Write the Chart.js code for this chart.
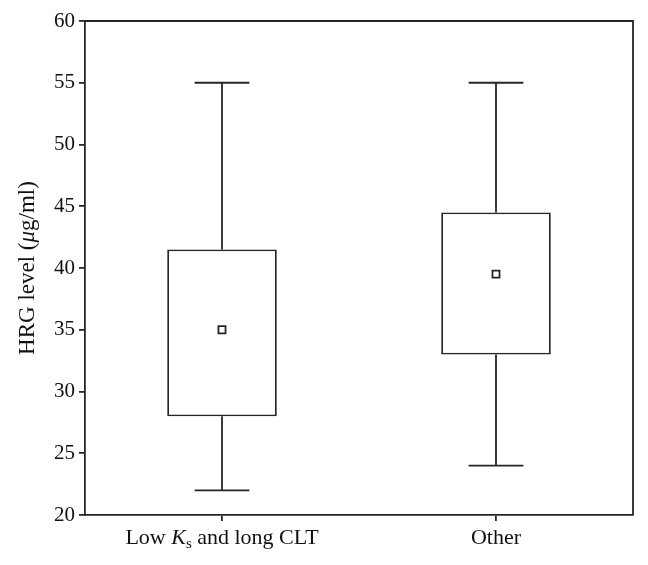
<!DOCTYPE html>
<html><head><meta charset="utf-8">
<script src="https://cdn.jsdelivr.net/npm/chart.js@4"></script>
<style>html,body{margin:0;padding:0;background:#fff}#wrap{width:648px;height:565px}</style>
</head><body><div id="wrap"><canvas id="c" width="648" height="565"></canvas></div>
<script>
const categories = ["Low Ks and long CLT", "Other"];
const whiskerLow = [22, 24];
const q1 = [28, 33];
const q3 = [41.5, 44.5];
const whiskerHigh = [55, 55];
const means = [35, 39.5];
const yTicks = [20, 25, 30, 35, 40, 45, 50, 55, 60];

const LINE = '#262626';
const LW = 1.8;
const FONT = '"Liberation Serif", "DejaVu Serif", serif';
const LBL = 22;

const decor = {
  id: 'decor',
  afterDatasetsDraw(chart) {
    const ctx = chart.ctx, x = chart.scales.x, y = chart.scales.y, a = chart.chartArea;
    const meta = chart.getDatasetMeta(0);
    ctx.save();
    ctx.strokeStyle = LINE; ctx.lineWidth = LW;
    categories.forEach((c, i) => {
      const cx = x.getPixelForValue(i);
      const bw = meta.data[i].width;
      const cap = bw / 4;
      ctx.beginPath();
      ctx.moveTo(cx, y.getPixelForValue(whiskerLow[i])); ctx.lineTo(cx, y.getPixelForValue(q1[i]));
      ctx.moveTo(cx, y.getPixelForValue(q3[i])); ctx.lineTo(cx, y.getPixelForValue(whiskerHigh[i]));
      ctx.moveTo(cx - cap, y.getPixelForValue(whiskerLow[i])); ctx.lineTo(cx + cap, y.getPixelForValue(whiskerLow[i]));
      ctx.moveTo(cx - cap, y.getPixelForValue(whiskerHigh[i])); ctx.lineTo(cx + cap, y.getPixelForValue(whiskerHigh[i]));
      ctx.stroke();
    });
    ctx.beginPath();
    ctx.moveTo(a.left, a.top); ctx.lineTo(a.right, a.top); ctx.lineTo(a.right, a.bottom);
    ctx.stroke();
    ctx.restore();
  },
  afterDraw(chart) {
    const ctx = chart.ctx, x = chart.scales.x, a = chart.chartArea;
    ctx.save();
    ctx.fillStyle = '#111';
    ctx.textBaseline = 'alphabetic';
    const base = a.bottom + 29;
    const parts = [
      ['Low ', LBL + 'px ' + FONT, 0],
      ['K', 'italic ' + LBL + 'px ' + FONT, 0],
      ['s', '15px ' + FONT, 4],
      [' and long CLT', LBL + 'px ' + FONT, 0]
    ];
    let total = 0;
    parts.forEach(p => { ctx.font = p[1]; total += ctx.measureText(p[0]).width; });
    let px = x.getPixelForValue(0) - total / 2;
    parts.forEach(p => { ctx.font = p[1]; ctx.fillText(p[0], px, base + p[2]); px += ctx.measureText(p[0]).width; });
    ctx.font = LBL + 'px ' + FONT;
    ctx.textAlign = 'center';
    ctx.fillText(categories[1], x.getPixelForValue(1), base);
    ctx.textAlign = 'left';
    const tp = [
      ['HRG level (', '23px ' + FONT],
      ['\u03BC', 'italic 23px ' + FONT],
      ['g/ml)', '23px ' + FONT]
    ];
    let tw = 0;
    tp.forEach(p => { ctx.font = p[1]; tw += ctx.measureText(p[0]).width; });
    ctx.translate(34, (a.top + a.bottom) / 2);
    ctx.rotate(-Math.PI / 2);
    let tx = -tw / 2;
    tp.forEach(p => { ctx.font = p[1]; ctx.fillText(p[0], tx, 0); tx += ctx.measureText(p[0]).width; });
    ctx.restore();
  }
};

new Chart(document.getElementById('c'), {
  data: {
    labels: categories,
    datasets: [
      {
        type: 'bar',
        order: 2,
        data: q1.map((v, i) => [v, q3[i]]),
        backgroundColor: '#ffffff',
        borderColor: LINE,
        borderWidth: LW,
        borderSkipped: false,
        categoryPercentage: 1,
        barPercentage: 0.4
      },
      {
        type: 'line',
        order: 1,
        data: means,
        showLine: false,
        pointStyle: 'rect',
        pointRadius: 5,
        pointBorderWidth: LW,
        pointBackgroundColor: '#ffffff',
        pointBorderColor: LINE
      }
    ]
  },
  options: {
    responsive: false,
    animation: false,
    events: [],
    layout: { padding: { top: 21, right: 15, left: 0, bottom: 0 } },
    plugins: { legend: { display: false }, tooltip: { enabled: false } },
    scales: {
      x: {
        type: 'category',
        offset: true,
        grid: { offset: false, drawOnChartArea: false, drawTicks: true, tickLength: 6, color: LINE, lineWidth: LW },
        border: { color: LINE, width: LW },
        ticks: { display: false },
        afterFit(s) { s.height = 50; }
      },
      y: {
        min: 20, max: 60,
        afterBuildTicks(s) { s.ticks = yTicks.map(v => ({ value: v })); },
        grid: { drawOnChartArea: false, drawTicks: true, tickLength: 6, color: LINE, lineWidth: LW },
        border: { color: LINE, width: LW },
        ticks: { color: '#111', font: { family: FONT, size: 21 }, padding: 4 },
        afterFit(s) { s.width = 85; }
      }
    }
  },
  plugins: [decor]
});
</script>
</body></html>
